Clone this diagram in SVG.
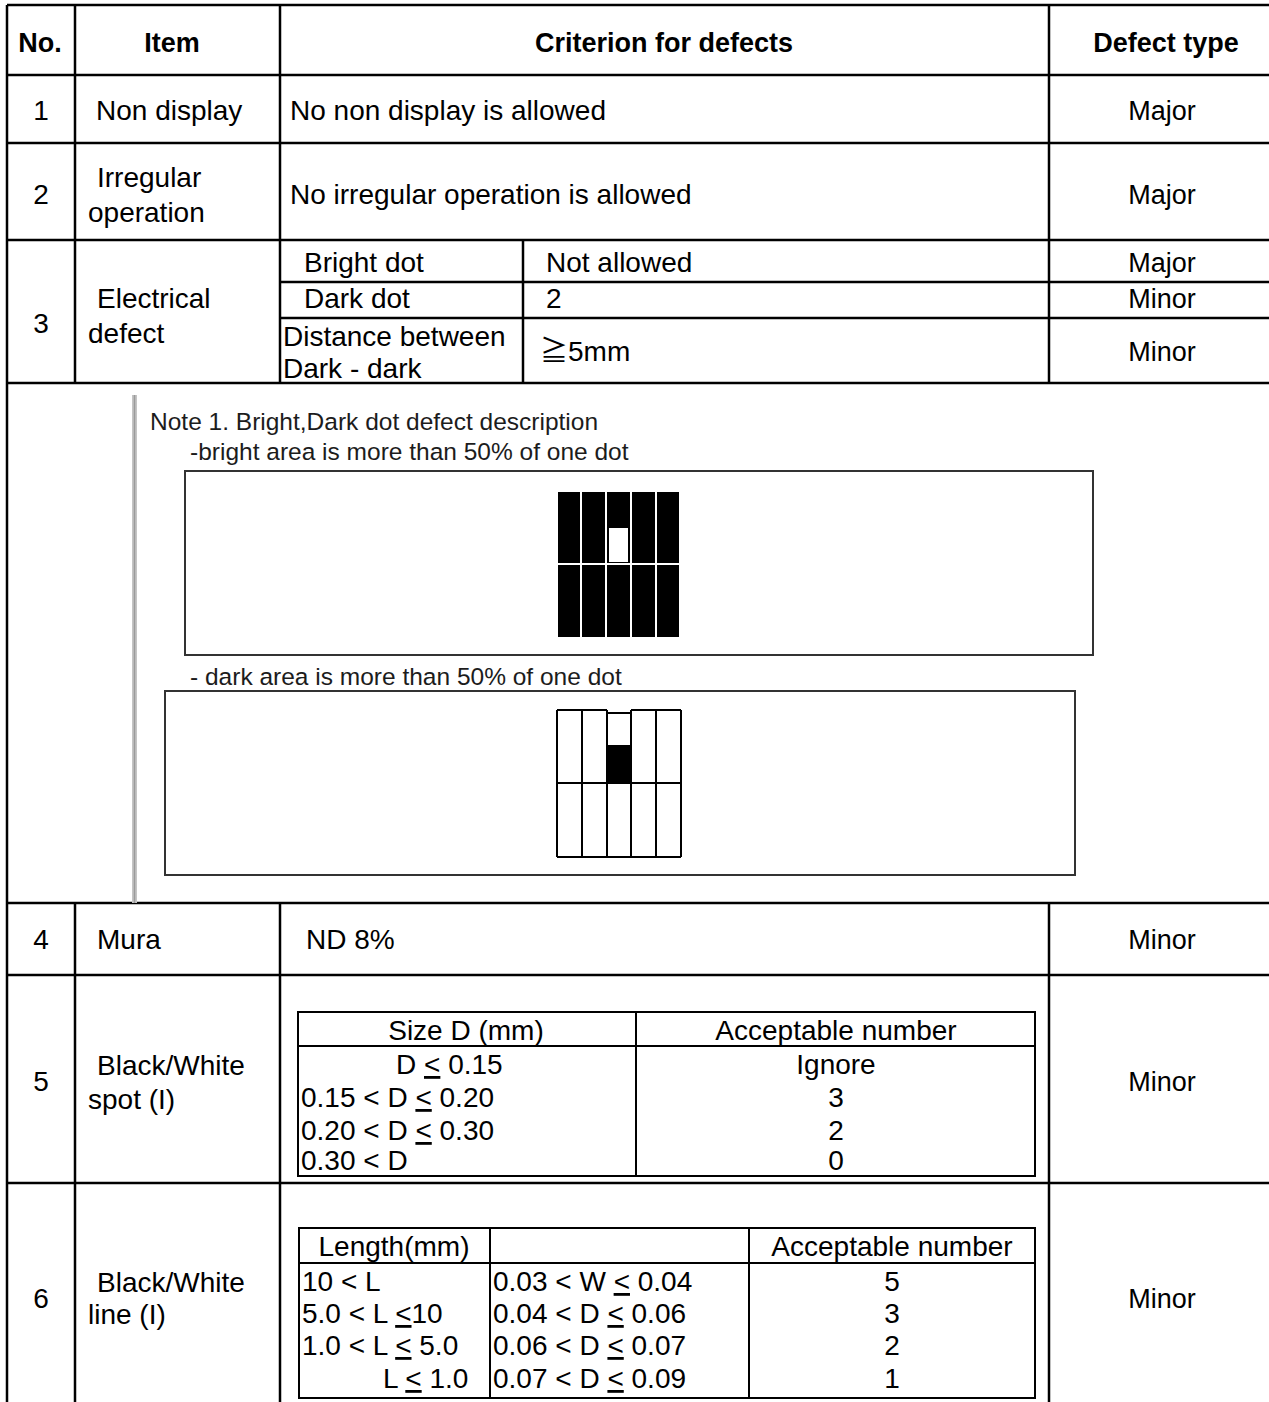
<svg xmlns="http://www.w3.org/2000/svg" width="1269" height="1402" viewBox="0 0 1269 1402">
<defs>
<style>
text{font-family:"Liberation Sans",Arial,"Noto Sans CJK JP",sans-serif;font-size:28px;fill:#000}
.h{font-weight:bold;font-size:27px}
.c{text-anchor:middle}
.d{font-size:27px}
.n{font-size:24.5px;fill:#1c1c1c}
.g{stroke:#000;stroke-width:2.5;fill:none}
.t{stroke:#000;stroke-width:2;fill:none}
.box{stroke:#333;stroke-width:2;fill:none}
.u{text-decoration:underline}
</style>
</defs>
<rect width="1269" height="1402" fill="#fff"/>
<g id="connectors" class="g">
<line x1="7" y1="5" x2="1275" y2="5"/>
<line x1="7" y1="75" x2="1275" y2="75"/>
<line x1="7" y1="143" x2="1275" y2="143"/>
<line x1="7" y1="240" x2="1275" y2="240"/>
<line x1="280" y1="282" x2="1275" y2="282"/>
<line x1="280" y1="318" x2="1275" y2="318"/>
<line x1="7" y1="383" x2="1275" y2="383"/>
<line x1="7" y1="903" x2="1275" y2="903"/>
<line x1="7" y1="975" x2="1275" y2="975"/>
<line x1="7" y1="1183" x2="1275" y2="1183"/>
<line x1="7" y1="5" x2="7" y2="1402"/>
<line x1="75" y1="5" x2="75" y2="383"/>
<line x1="280" y1="5" x2="280" y2="383"/>
<line x1="1049" y1="5" x2="1049" y2="383"/>
<line x1="523" y1="240" x2="523" y2="383"/>
<line x1="75" y1="903" x2="75" y2="1402"/>
<line x1="280" y1="903" x2="280" y2="1402"/>
<line x1="1049" y1="903" x2="1049" y2="1402"/>
</g>
<g id="header">
<text class="h c" x="40" y="52">No.</text>
<text class="h c" x="172" y="52">Item</text>
<text class="h c" x="664" y="52">Criterion for defects</text>
<text class="h c" x="1166" y="52">Defect type</text>
</g>
<g id="row1">
<text class="c" x="41" y="120">1</text>
<text x="96" y="120">Non display</text>
<text x="290" y="120">No non display is allowed</text>
<text class="c d" x="1162" y="120">Major</text>
</g>
<g id="row2">
<text class="c" x="41" y="204">2</text>
<text x="97" y="187">Irregular</text>
<text x="88" y="222">operation</text>
<text x="290" y="204">No irregular operation is allowed</text>
<text class="c d" x="1162" y="204">Major</text>
</g>
<g id="row3">
<text class="c" x="41" y="333">3</text>
<text x="97" y="308">Electrical</text>
<text x="88" y="343">defect</text>
<text x="304" y="272">Bright dot</text>
<text x="304" y="308">Dark dot</text>
<text x="283" y="346">Distance between</text>
<text x="283" y="378">Dark - dark</text>
<text x="546" y="272">Not allowed</text>
<text x="546" y="308">2</text>
<text x="540" y="361">≧5mm</text>
<text class="c d" x="1162" y="272">Major</text>
<text class="c d" x="1162" y="308">Minor</text>
<text class="c d" x="1162" y="361">Minor</text>
</g>
<g id="note">
<rect x="132" y="395" width="5" height="508" fill="#c4c4c4"/>
<line x1="134.5" y1="395" x2="134.5" y2="903" stroke="#9a9a9a" stroke-width="1.5"/>
<text class="n" x="150" y="430">Note 1. Bright,Dark dot defect description</text>
<text class="n" x="190" y="460">-bright area is more than 50% of one dot</text>
<rect class="box" x="185" y="471" width="908" height="184"/>
<g id="bright-grid" fill="#000">
<rect x="558" y="492" width="22" height="71"/>
<rect x="582" y="492" width="23" height="71"/>
<rect x="607" y="492" width="23" height="71"/>
<rect x="632" y="492" width="23" height="71"/>
<rect x="657" y="492" width="22" height="71"/>
<rect x="558" y="565" width="22" height="72"/>
<rect x="582" y="565" width="23" height="72"/>
<rect x="607" y="565" width="23" height="72"/>
<rect x="632" y="565" width="23" height="72"/>
<rect x="657" y="565" width="22" height="72"/>
<rect x="609" y="528" width="19" height="34" fill="#fff"/>
</g>
<text class="n" x="190" y="685">- dark area is more than 50% of one dot</text>
<rect class="box" x="165" y="691" width="910" height="184"/>
<g id="dark-grid">
<rect x="607" y="745" width="24" height="38" fill="#000"/>
<g stroke="#000" stroke-width="2" fill="none">
<path d="M557 710 H607 M631 710 H681 M607 713 H631"/>
<path d="M557 857 H681 M557 783 H681"/>
<path d="M557 710 V857 M582 710 V857 M607 710 V857 M631 710 V857 M656 710 V857 M681 710 V857"/>
</g>
</g>
</g>
<g id="row4">
<text class="c" x="41" y="949">4</text>
<text x="97" y="949">Mura</text>
<text x="306" y="949">ND 8%</text>
<text class="c d" x="1162" y="949">Minor</text>
</g>
<g id="row5">
<text class="c" x="41" y="1091">5</text>
<text x="97" y="1075">Black/White</text>
<text x="88" y="1109">spot (I)</text>
<text class="c d" x="1162" y="1091">Minor</text>
<g id="spot-table">
<rect class="t" x="298" y="1012" width="737" height="164"/>
<line class="t" x1="298" y1="1046" x2="1035" y2="1046"/>
<line class="t" x1="636" y1="1012" x2="636" y2="1176"/>
<text class="c" x="466" y="1040">Size D (mm)</text>
<text class="c" x="836" y="1040">Acceptable number</text>
<text x="396" y="1074">D <tspan class="u">&lt;</tspan> 0.15</text>
<text x="301" y="1107">0.15 &lt; D <tspan class="u">&lt;</tspan> 0.20</text>
<text x="301" y="1140">0.20 &lt; D <tspan class="u">&lt;</tspan> 0.30</text>
<text x="301" y="1170">0.30 &lt; D</text>
<text class="c" x="836" y="1074">Ignore</text>
<text class="c" x="836" y="1107">3</text>
<text class="c" x="836" y="1140">2</text>
<text class="c" x="836" y="1170">0</text>
</g>
</g>
<g id="row6">
<text class="c" x="41" y="1308">6</text>
<text x="97" y="1292">Black/White</text>
<text x="88" y="1324">line (I)</text>
<text class="c d" x="1162" y="1308">Minor</text>
<g id="line-table">
<rect class="t" x="299" y="1228" width="736" height="170"/>
<line class="t" x1="299" y1="1263" x2="1035" y2="1263"/>
<line class="t" x1="490" y1="1228" x2="490" y2="1398"/>
<line class="t" x1="749" y1="1228" x2="749" y2="1398"/>
<text class="c" x="394" y="1256">Length(mm)</text>
<text class="c" x="892" y="1256">Acceptable number</text>
<text x="302" y="1291">10 &lt; L</text>
<text x="302" y="1323">5.0 &lt; L <tspan class="u">&lt;</tspan>10</text>
<text x="302" y="1355">1.0 &lt; L <tspan class="u">&lt;</tspan> 5.0</text>
<text x="383" y="1388">L <tspan class="u">&lt;</tspan> 1.0</text>
<text x="493" y="1291">0.03 &lt; W <tspan class="u">&lt;</tspan> 0.04</text>
<text x="493" y="1323">0.04 &lt; D <tspan class="u">&lt;</tspan> 0.06</text>
<text x="493" y="1355">0.06 &lt; D <tspan class="u">&lt;</tspan> 0.07</text>
<text x="493" y="1388">0.07 &lt; D <tspan class="u">&lt;</tspan> 0.09</text>
<text class="c" x="892" y="1291">5</text>
<text class="c" x="892" y="1323">3</text>
<text class="c" x="892" y="1355">2</text>
<text class="c" x="892" y="1388">1</text>
</g>
</g>
</svg>
